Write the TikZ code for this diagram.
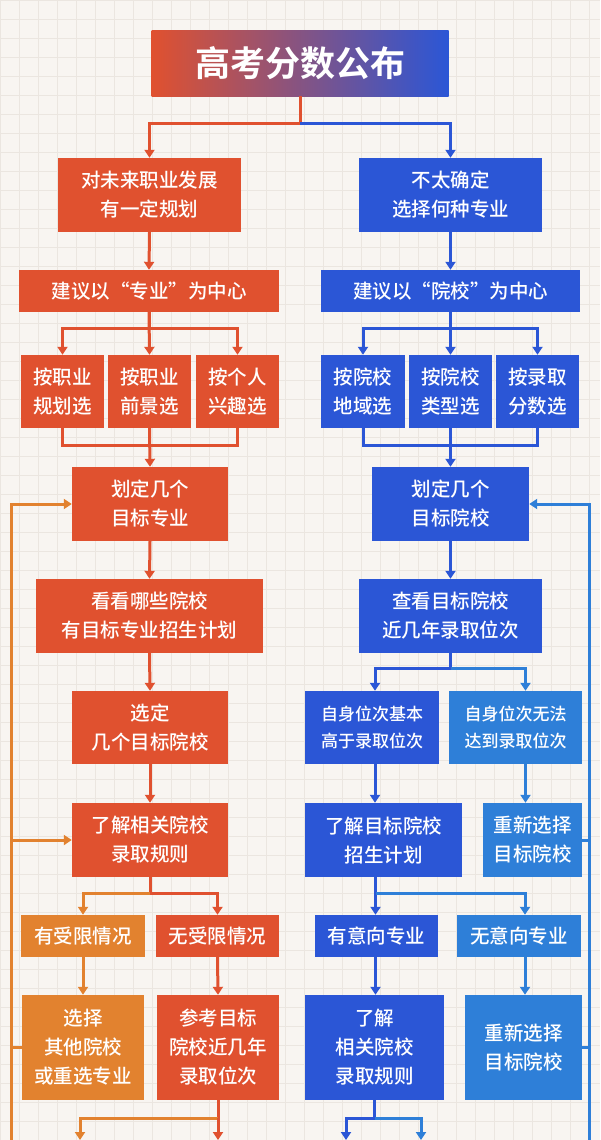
\documentclass[tikz,border=0pt]{standalone}
\usepackage{fontspec}
\setmainfont{Noto Sans CJK SC Medium}
\newfontfamily\tfont{Noto Sans CJK SC Bold}
\usetikzlibrary{arrows.meta}
\definecolor{cr}{HTML}{E0512F}
\definecolor{cb}{HTML}{2B56D6}
\definecolor{cl}{HTML}{2E7FD8}
\definecolor{co}{HTML}{E2822F}
\definecolor{bg}{HTML}{F8F5F1}
\definecolor{gridc}{HTML}{EBE6E0}
\tikzset{
  bx/.style={draw=none,text=white,align=center,inner sep=0pt,
    font=\fontsize{19.5}{29}\selectfont},
  ln/.style={line width=3pt},
  ar/.style={ln,-{Triangle[width=10pt,length=8pt]}}
}
\newcommand{\bx}[7]{\node[bx,fill=#2,minimum width={(#5-#3)*1pt},minimum height={(#6-#4)*1pt}] (#1) at ({(#3+#5)/2},{(#4+#6)/2}) {#7};}
\begin{document}
\begin{tikzpicture}[x=1pt,y=-1pt]
\useasboundingbox (0,0) rectangle (600,1140);
\fill[bg] (0,0) rectangle (600,1140);
\foreach \i in {0,19,...,1140} {\draw[gridc,line width=0.8pt] (0,\i) -- (600,\i);}
\foreach \i in {0,19,...,600} {\draw[gridc,line width=0.8pt] (\i,0) -- (\i,1140);}
% title
\node[bx,left color=cr,right color=cb,minimum width=297pt,minimum height=65pt,font=\fontsize{35}{36}\tfont] (T) at (300,63.5) {高考分数公布};
% left column
\bx{L1}{cr}{58}{158}{241}{232}{对未来职业发展\\有一定规划}
\bx{L2}{cr}{19}{270}{279}{312}{建议以“专业”为中心}
\bx{L3a}{cr}{21}{355}{104}{428}{按职业\\规划选}
\bx{L3b}{cr}{108}{355}{191}{428}{按职业\\前景选}
\bx{L3c}{cr}{196}{355}{279}{428}{按个人\\兴趣选}
\bx{L4}{cr}{72}{467}{228}{541}{划定几个\\目标专业}
\bx{L5}{cr}{36}{579}{263}{653}{看看哪些院校\\有目标专业招生计划}
\bx{L6}{cr}{72}{691}{228}{764}{选定\\几个目标院校}
\bx{L7}{cr}{72}{803}{228}{877}{了解相关院校\\录取规则}
\bx{L8a}{co}{21}{915}{145}{957}{有受限情况}
\bx{L8b}{cr}{156}{915}{279}{957}{无受限情况}
\bx{L9a}{co}{22}{995}{144}{1100}{选择\\其他院校\\或重选专业}
\bx{L9b}{cr}{157}{995}{279}{1100}{参考目标\\院校近几年\\录取位次}
% right column
\bx{R1}{cb}{359}{158}{542}{232}{不太确定\\选择何种专业}
\bx{R2}{cb}{321}{270}{580}{312}{建议以“院校”为中心}
\bx{R3a}{cb}{321}{355}{405}{428}{按院校\\地域选}
\bx{R3b}{cb}{409}{355}{492}{428}{按院校\\类型选}
\bx{R3c}{cb}{496}{355}{579}{428}{按录取\\分数选}
\bx{R4}{cb}{372}{467}{529}{541}{划定几个\\目标院校}
\bx{R5}{cb}{359}{579}{542}{653}{查看目标院校\\近几年录取位次}
\node[bx,fill=cb,minimum width=134pt,minimum height=73pt,font=\fontsize{17}{27}\selectfont] (R6a) at (372,727.5) {自身位次基本\\高于录取位次};
\node[bx,fill=cl,minimum width=133pt,minimum height=73pt,font=\fontsize{17}{27}\selectfont] (R6b) at (515.5,727.5) {自身位次无法\\达到录取位次};
\bx{R7a}{cb}{305}{803}{462}{877}{了解目标院校\\招生计划}
\bx{R7b}{cl}{483}{803}{582}{877}{重新选择\\目标院校}
\bx{R8a}{cb}{315}{915}{438}{957}{有意向专业}
\bx{R8b}{cl}{457}{915}{581}{957}{无意向专业}
\bx{R9a}{cb}{305}{995}{444}{1100}{了解\\相关院校\\录取规则}
\bx{R9b}{cl}{465}{995}{582}{1100}{重新选择\\目标院校}
% title branches
\draw[ln,cr] (T.south) -- ++(0,27) coordinate (tb);
\draw[ar,cr] (tb) -| (L1.north);
\draw[ar,cb] (tb) -| (R1.north);
% left connectors
\draw[ar,cr] (L1.south) -- (L2.north);
\draw[ln,cr] (L2.south) -- ++(0,16) coordinate (l2b);
\draw[ar,cr] (l2b) -| (L3a.north);
\draw[ar,cr] (l2b) -| (L3c.north);
\draw[ar,cr] (L2.south) -- (L3b.north);
\draw[ln,cr] (L3a.south) -- ++(0,17) -| (L3c.south);
\draw[ar,cr] (L3b.south) -- (L4.north);
\draw[ar,cr] (L4.south) -- (L5.north);
\draw[ar,cr] (L5.south) -- (L6.north);
\draw[ar,cr] (L6.south) -- (L7.north);
\draw[ln,cr] (L7.south) -- ++(0,16) coordinate (l7b);
\draw[ar,co] (l7b) -| (L8a.north);
\draw[ar,cr] (l7b) -| (L8b.north);
\draw[ar,co] (L8a.south) -- (L9a.north);
\draw[ar,cr] (L8b.south) -- (L9b.north);
\draw[ln,cr] (L9b.south) -- ++(0,18) coordinate (l9b);
\coordinate (e1) at (80,1140);
\coordinate (e2) at (218,1140);
\draw[ar,co] (l9b) -| (e1);
\draw[ar,cr] (l9b) -- (e2);
% left feedback
\coordinate (lb) at (11,1140);
\draw[ar,co] (lb) |- (L4.west);
\draw[ar,co] (lb |- L7.west) -- (L7.west);
\draw[ln,co] (L9a.west) -- (lb |- L9a.west);
% right connectors
\draw[ar,cb] (R1.south) -- (R2.north);
\draw[ln,cb] (R2.south) -- ++(0,16) coordinate (r2b);
\draw[ar,cb] (r2b) -| (R3a.north);
\draw[ar,cb] (r2b) -| (R3c.north);
\draw[ar,cb] (R2.south) -- (R3b.north);
\draw[ln,cb] (R3a.south) -- ++(0,17) -| (R3c.south);
\draw[ar,cb] (R3b.south) -- (R4.north);
\draw[ar,cb] (R4.south) -- (R5.north);
\draw[ln,cb] (R5.south) -- ++(0,15) coordinate (r5b);
\draw[ar,cb] (r5b) -| ([xshift=3pt]R6a.north);
\draw[ar,cl] (r5b) -| ([xshift=10pt]R6b.north);
\draw[ar,cb] ([xshift=3pt]R6a.south) -- ([xshift=3pt]R6a.south |- R7a.north);
\draw[ar,cl] ([xshift=10pt]R6b.south) -- ([xshift=10pt]R6b.south |- R7b.north);
\draw[ln,cb] ([xshift=-8pt]R7a.south) -- ++(0,16) coordinate (r7b);
\draw[ar,cb] (r7b) -- (r7b |- R8a.north);
\draw[ar,cl] (r7b) -| ([xshift=6pt]R8b.north);
\draw[ar,cb] (r7b |- R8a.south) -- (r7b |- R9a.north);
\draw[ar,cl] ([xshift=6pt]R8b.south) -- ([xshift=6pt]R8b.south |- R9b.north);
\draw[ln,cb] (R9a.south) -- ++(0,18) coordinate (r9b);
\coordinate (e3) at (346,1140);
\coordinate (e4) at (421,1140);
\draw[ar,cb] (r9b) -| (e3);
\draw[ar,cl] (r9b) -| (e4);
% right feedback
\coordinate (rb) at (589,1140);
\draw[ar,cl] (rb) |- (R4.east);
\draw[ln,cl] (R7b.east) -- (rb |- R7b.east);
\draw[ln,cl] (R9b.east) -- (rb |- R9b.east);
\end{tikzpicture}
\end{document}
